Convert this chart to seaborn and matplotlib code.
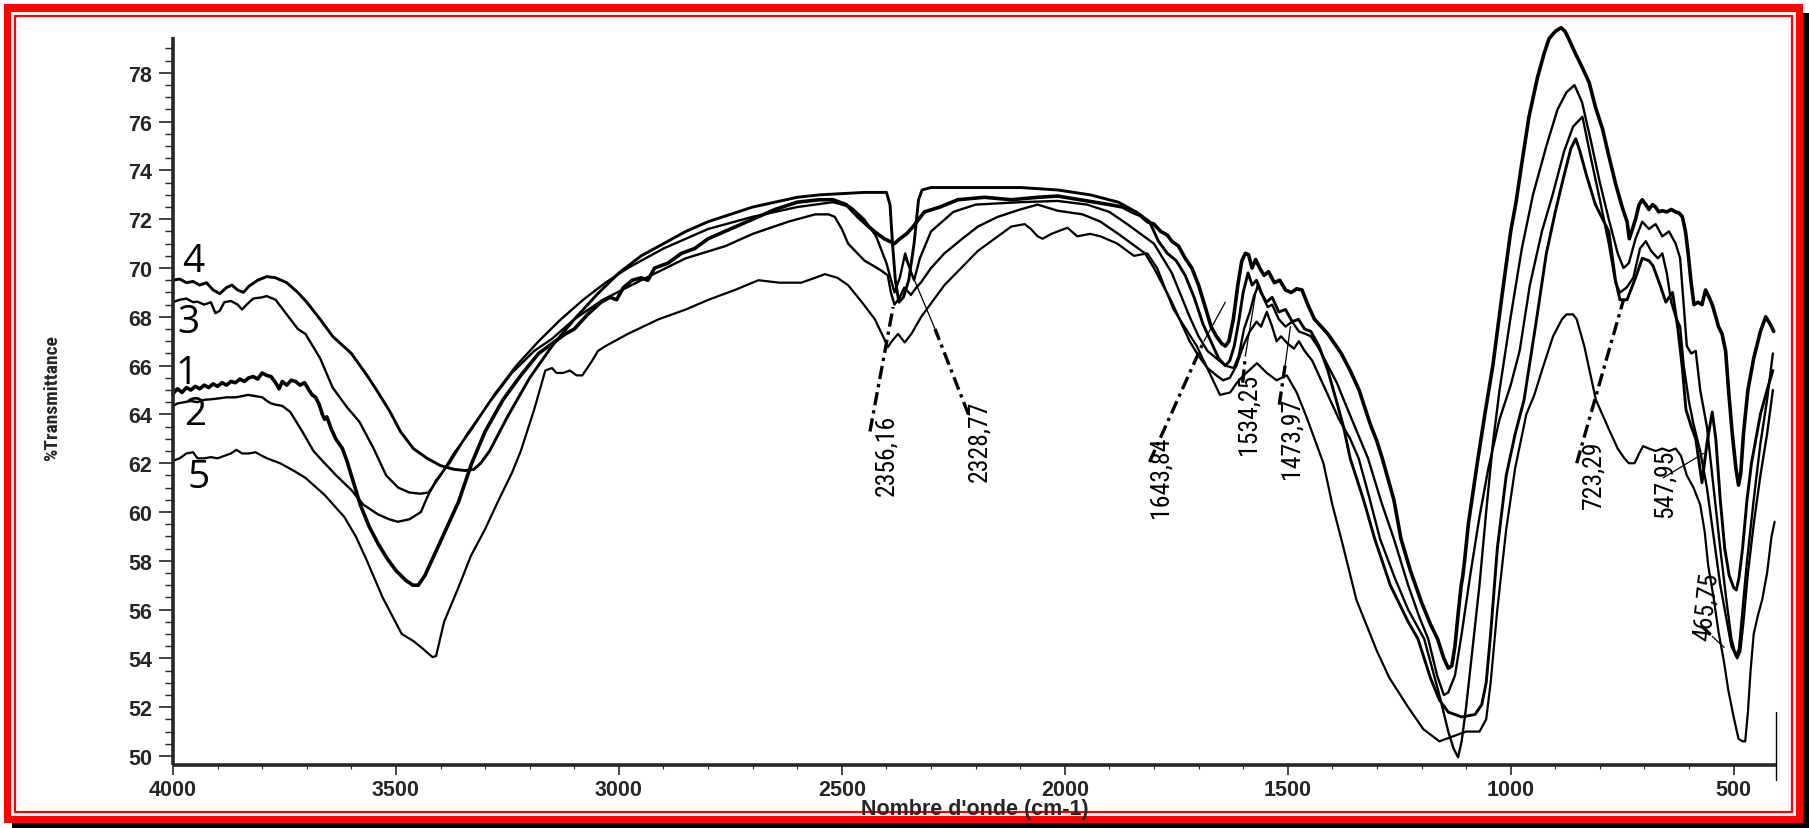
import matplotlib
matplotlib.use("Agg")
import matplotlib.pyplot as plt
from matplotlib.patches import Rectangle
from matplotlib.ticker import MultipleLocator
import pandas as pd
import seaborn as sns

W, H = 1809, 829

# FTIR spectra: (wavenumber cm-1, % transmittance)
sample1 = [
    (4000, 64.85), (3990, 65.05), (3980, 64.9), (3970, 65.1), (3960, 65.0), (3950, 65.15), (3940, 65.05),
    (3930, 65.2), (3920, 65.1), (3910, 65.25), (3900, 65.15), (3890, 65.3), (3880, 65.2), (3870, 65.35),
    (3860, 65.3), (3850, 65.45), (3840, 65.35), (3830, 65.5), (3820, 65.55), (3810, 65.45), (3800, 65.7),
    (3790, 65.6), (3780, 65.55), (3770, 65.3), (3762, 65.05), (3755, 65.35), (3745, 65.2), (3735, 65.4),
    (3725, 65.35), (3715, 65.2), (3705, 65.3), (3695, 65.0), (3688, 64.8), (3680, 64.7), (3672, 64.4),
    (3665, 64.0), (3660, 63.8), (3655, 63.9), (3645, 63.4), (3635, 63.0), (3620, 62.6), (3610, 62.1),
    (3595, 61.2), (3580, 60.3), (3560, 59.4), (3540, 58.7), (3520, 58.1), (3500, 57.6), (3478, 57.2),
    (3462, 57.0), (3450, 57.0), (3435, 57.4), (3400, 58.8), (3360, 60.4), (3330, 62.0), (3300, 63.3),
    (3260, 64.6), (3220, 65.6), (3180, 66.5), (3150, 66.9), (3120, 67.3), (3100, 67.5), (3070, 68.1),
    (3040, 68.6), (3020, 68.8), (3005, 68.7), (2990, 69.2), (2970, 69.5), (2950, 69.6), (2935, 69.5),
    (2920, 70.0), (2890, 70.2), (2860, 70.6), (2830, 70.8), (2800, 71.2), (2750, 71.6), (2700, 72.0),
    (2650, 72.4), (2600, 72.7), (2550, 72.8), (2520, 72.8), (2490, 72.6), (2464, 72.1), (2440, 71.7),
    (2427, 71.5), (2405, 71.2), (2382, 71.0), (2370, 71.2), (2355, 71.4), (2340, 71.7), (2315, 72.3),
    (2280, 72.5), (2240, 72.8), (2180, 72.9), (2120, 72.8), (2060, 72.9), (2016, 72.95), (1950, 72.75),
    (1900, 72.6), (1870, 72.5), (1850, 72.3), (1830, 72.15), (1815, 71.9), (1800, 71.8), (1785, 71.5),
    (1770, 71.35), (1760, 71.1), (1745, 70.9), (1730, 70.4), (1715, 70.0), (1700, 69.3), (1685, 68.4),
    (1672, 67.6), (1660, 67.2), (1648, 66.9), (1640, 66.8), (1632, 67.0), (1622, 67.9), (1612, 69.3),
    (1603, 70.3), (1595, 70.6), (1588, 70.55), (1580, 70.0), (1572, 70.35), (1563, 70.0), (1553, 69.7),
    (1543, 69.85), (1530, 69.4), (1518, 69.5), (1505, 69.1), (1492, 69.0), (1480, 69.15), (1468, 69.1),
    (1455, 68.5), (1440, 67.9), (1425, 67.6), (1410, 67.3), (1395, 66.9), (1380, 66.5), (1360, 65.8),
    (1340, 65.0), (1315, 63.6), (1300, 62.9), (1288, 62.2), (1262, 60.5), (1246, 58.9), (1225, 57.6),
    (1200, 56.3), (1180, 55.4), (1164, 54.8), (1150, 54.0), (1140, 53.6), (1132, 53.7), (1125, 54.5),
    (1118, 55.8), (1111, 57.0), (1108, 57.3), (1104, 57.9), (1095, 59.5), (1075, 62.0), (1058, 64.0),
    (1040, 66.0), (1020, 68.8), (1000, 71.5), (988, 72.7), (975, 74.3), (959, 76.2), (940, 77.8),
    (925, 78.8), (914, 79.4), (900, 79.7), (887, 79.85), (878, 79.7), (870, 79.4), (855, 78.8),
    (839, 78.2), (824, 77.6), (810, 76.6), (794, 75.7), (780, 74.6), (764, 73.4), (750, 72.5),
    (739, 71.9), (734, 71.2), (727, 71.6), (720, 72.0), (712, 72.6), (705, 72.8), (697, 72.6),
    (690, 72.4), (682, 72.6), (675, 72.5), (668, 72.3), (660, 72.35), (650, 72.3), (640, 72.4),
    (630, 72.3), (622, 72.25), (615, 72.1), (608, 71.5), (602, 70.6), (596, 69.5), (589, 68.5),
    (580, 68.6), (571, 68.5), (563, 69.1), (555, 68.8), (548, 68.5), (540, 68.0), (534, 67.6),
    (526, 67.3), (518, 66.6), (511, 64.9), (503, 63.2), (495, 61.8), (489, 61.1), (484, 61.6),
    (478, 63.2), (468, 65.0), (455, 66.3), (440, 67.4), (428, 68.0), (418, 67.7), (410, 67.4),
]

sample2 = [
    (4000, 64.35), (3990, 64.45), (3975, 64.5), (3960, 64.55), (3945, 64.5), (3930, 64.6), (3915, 64.62),
    (3900, 64.65), (3880, 64.7), (3860, 64.7), (3845, 64.75), (3832, 64.8), (3815, 64.75), (3800, 64.7),
    (3789, 64.55), (3780, 64.45), (3770, 64.4), (3755, 64.35), (3737, 64.1), (3710, 63.3), (3685, 62.5),
    (3660, 62.0), (3634, 61.5), (3600, 60.9), (3573, 60.3), (3540, 59.9), (3515, 59.7), (3496, 59.6),
    (3470, 59.7), (3444, 60.0), (3430, 60.6), (3410, 61.3), (3380, 62.0), (3340, 63.2), (3290, 64.5),
    (3240, 65.7), (3190, 66.6), (3150, 67.1), (3100, 67.9), (3036, 68.7), (2950, 69.5), (2850, 70.4),
    (2761, 70.9), (2700, 71.4), (2620, 71.9), (2560, 72.2), (2530, 72.2), (2516, 72.1), (2500, 71.6),
    (2486, 71.0), (2465, 70.6), (2449, 70.3), (2430, 70.1), (2412, 69.9), (2397, 69.7), (2390, 69.0),
    (2382, 68.5), (2370, 68.8), (2360, 69.2), (2345, 68.9), (2333, 69.2), (2323, 69.4), (2300, 70.0),
    (2270, 70.6), (2230, 71.2), (2195, 71.7), (2150, 72.1), (2100, 72.4), (2061, 72.6), (2016, 72.35),
    (1960, 72.2), (1920, 71.9), (1880, 71.4), (1850, 71.0), (1820, 70.6), (1800, 70.0), (1780, 69.3),
    (1760, 68.6), (1740, 67.8), (1720, 67.0), (1700, 66.4), (1680, 65.9), (1660, 65.6), (1645, 65.4),
    (1630, 65.5), (1615, 66.0), (1600, 66.8), (1585, 67.4), (1570, 67.8), (1560, 67.6), (1547, 68.2),
    (1535, 67.6), (1525, 67.0), (1515, 67.2), (1500, 66.9), (1486, 66.7), (1475, 67.0), (1462, 66.6),
    (1445, 66.2), (1430, 65.6), (1410, 64.8), (1385, 63.8), (1360, 63.0), (1341, 62.2), (1320, 60.8),
    (1293, 58.9), (1260, 57.3), (1230, 56.0), (1194, 54.8), (1160, 52.5), (1140, 51.0), (1128, 50.3),
    (1118, 49.95), (1110, 50.6), (1100, 52.0), (1085, 54.5), (1070, 57.0), (1055, 60.0), (1040, 62.8),
    (1025, 65.0), (1000, 68.0), (975, 70.8), (950, 73.0), (920, 75.0), (895, 76.5), (875, 77.2),
    (857, 77.5), (840, 76.8), (820, 75.2), (800, 73.5), (780, 72.0), (760, 70.6), (747, 70.0),
    (735, 70.2), (720, 71.2), (705, 71.9), (690, 71.6), (675, 71.8), (660, 71.3), (645, 71.5),
    (630, 71.0), (620, 70.4), (612, 68.5), (605, 66.8), (595, 66.5), (585, 66.6), (575, 65.0),
    (560, 63.5), (545, 61.0), (530, 58.5), (515, 56.2), (505, 54.8), (495, 54.1), (488, 54.4),
    (480, 56.0), (470, 58.0), (455, 60.5), (440, 62.8), (425, 64.6), (412, 66.5),
]

sample3 = [
    (4000, 68.6), (3985, 68.7), (3970, 68.75), (3955, 68.6), (3945, 68.62), (3930, 68.5), (3915, 68.6),
    (3905, 68.15), (3895, 68.25), (3885, 68.6), (3870, 68.65), (3855, 68.5), (3845, 68.3), (3835, 68.5),
    (3820, 68.75), (3800, 68.8), (3790, 68.85), (3770, 68.7), (3745, 68.1), (3720, 67.5), (3703, 67.3),
    (3670, 66.3), (3642, 65.1), (3610, 64.3), (3582, 63.7), (3550, 62.6), (3522, 61.5), (3495, 61.0),
    (3470, 60.8), (3445, 60.75), (3427, 60.8), (3400, 61.5), (3370, 62.4), (3330, 63.4), (3280, 64.8),
    (3230, 66.0), (3180, 67.0), (3130, 67.9), (3080, 68.7), (3030, 69.4), (2980, 70.0), (2900, 70.8),
    (2800, 71.6), (2700, 72.1), (2600, 72.5), (2520, 72.7), (2480, 72.5), (2450, 72.0), (2423, 71.3),
    (2400, 70.2), (2382, 69.0), (2370, 69.6), (2358, 70.6), (2348, 70.0), (2338, 69.5), (2325, 70.4),
    (2300, 71.5), (2250, 72.3), (2200, 72.6), (2100, 72.7), (2016, 72.75), (1950, 72.6), (1900, 72.3),
    (1860, 71.8), (1830, 71.4), (1800, 71.0), (1780, 70.4), (1760, 69.8), (1740, 68.9), (1720, 68.0),
    (1700, 67.2), (1680, 66.6), (1660, 66.3), (1640, 66.0), (1621, 65.9), (1610, 66.4), (1598, 67.5),
    (1585, 68.2), (1575, 68.9), (1565, 69.3), (1555, 68.8), (1545, 68.4), (1535, 68.5), (1520, 67.9),
    (1505, 67.6), (1490, 67.8), (1475, 67.4), (1460, 67.3), (1448, 67.2), (1430, 66.7), (1410, 66.0),
    (1390, 65.3), (1370, 64.4), (1345, 63.3), (1320, 62.2), (1290, 60.4), (1262, 58.9), (1230, 57.0),
    (1205, 55.7), (1185, 54.8), (1165, 53.3), (1150, 52.5), (1140, 52.6), (1125, 53.3), (1110, 55.0),
    (1090, 57.5), (1070, 59.8), (1050, 61.8), (1025, 63.8), (1000, 65.2), (980, 66.6), (957, 69.3),
    (930, 71.5), (906, 73.0), (880, 74.8), (860, 75.8), (839, 76.2), (820, 74.5), (800, 72.8),
    (780, 71.0), (765, 69.4), (755, 69.0), (740, 69.2), (725, 69.6), (710, 70.8), (697, 71.1),
    (685, 70.7), (670, 70.4), (660, 70.6), (650, 69.8), (640, 68.6), (630, 68.0), (620, 67.6),
    (612, 66.0), (600, 64.5), (590, 63.6), (575, 62.5), (560, 61.0), (545, 59.0), (530, 57.0),
    (515, 55.5), (505, 54.5), (492, 54.0), (485, 54.3), (478, 55.5), (468, 57.5), (455, 59.5),
    (440, 61.5), (425, 63.2), (412, 65.0),
]

sample4 = [
    (4000, 69.5), (3985, 69.55), (3970, 69.4), (3955, 69.45), (3940, 69.3), (3925, 69.4), (3910, 69.1),
    (3895, 68.95), (3880, 69.2), (3868, 69.3), (3855, 69.1), (3842, 69.0), (3830, 69.25), (3810, 69.5),
    (3790, 69.65), (3770, 69.6), (3745, 69.4), (3720, 69.0), (3700, 68.6), (3670, 67.9), (3642, 67.2),
    (3600, 66.5), (3565, 65.6), (3540, 64.9), (3513, 64.1), (3490, 63.3), (3461, 62.6), (3430, 62.2),
    (3400, 61.9), (3370, 61.75), (3345, 61.7), (3325, 61.75), (3310, 62.0), (3290, 62.5), (3250, 63.9),
    (3200, 65.5), (3150, 66.8), (3100, 67.9), (3050, 68.9), (3000, 69.8), (2950, 70.5), (2900, 71.0),
    (2850, 71.5), (2800, 71.9), (2750, 72.2), (2700, 72.5), (2650, 72.7), (2600, 72.9), (2550, 73.0),
    (2500, 73.05), (2450, 73.1), (2400, 73.1), (2392, 72.6), (2386, 70.9), (2380, 69.5), (2372, 68.6),
    (2362, 68.8), (2350, 69.5), (2338, 71.0), (2328, 72.8), (2320, 73.2), (2300, 73.3), (2200, 73.3),
    (2100, 73.3), (2016, 73.2), (1943, 73.0), (1880, 72.7), (1840, 72.3), (1810, 71.9), (1790, 71.1),
    (1770, 70.6), (1750, 70.3), (1730, 69.7), (1710, 68.8), (1690, 67.7), (1670, 66.9), (1655, 66.3),
    (1640, 66.0), (1630, 66.2), (1620, 66.8), (1610, 67.8), (1600, 69.0), (1589, 69.8), (1580, 69.3),
    (1570, 69.5), (1560, 69.0), (1548, 68.6), (1535, 68.8), (1520, 68.2), (1505, 68.3), (1490, 67.8),
    (1476, 67.9), (1462, 67.5), (1448, 67.4), (1430, 66.8), (1410, 65.8), (1390, 64.5), (1375, 63.5),
    (1360, 62.2), (1330, 60.5), (1305, 58.9), (1270, 57.0), (1230, 55.5), (1208, 54.8), (1180, 53.2),
    (1160, 52.3), (1140, 51.8), (1110, 51.6), (1080, 51.7), (1065, 52.1), (1055, 53.0), (1045, 55.0),
    (1030, 58.5), (1010, 61.5), (990, 63.2), (970, 64.6), (942, 67.9), (920, 70.6), (900, 72.3),
    (883, 73.6), (865, 74.9), (854, 75.3), (845, 74.8), (830, 73.8), (810, 72.6), (780, 71.5),
    (765, 69.5), (755, 68.7), (739, 68.7), (720, 69.6), (705, 70.4), (690, 70.3), (681, 70.1),
    (665, 69.3), (652, 68.6), (637, 69.0), (625, 67.5), (615, 65.9), (607, 64.2), (595, 63.5),
    (585, 63.0), (571, 61.2), (560, 62.8), (548, 64.1), (540, 63.0), (530, 60.5), (520, 58.5),
    (510, 57.4), (500, 56.9), (494, 56.8), (488, 57.3), (480, 58.5), (470, 60.5), (460, 62.0),
    (440, 64.0), (425, 65.0), (412, 65.8),
]

sample5 = [
    (4000, 62.1), (3985, 62.2), (3970, 62.4), (3955, 62.45), (3945, 62.2), (3930, 62.2), (3915, 62.25),
    (3900, 62.2), (3885, 62.3), (3870, 62.4), (3858, 62.55), (3845, 62.4), (3830, 62.4), (3815, 62.45),
    (3800, 62.3), (3789, 62.2), (3760, 62.0), (3730, 61.7), (3703, 61.4), (3660, 60.7), (3616, 59.8),
    (3590, 59.0), (3565, 58.0), (3530, 56.5), (3487, 55.0), (3460, 54.7), (3440, 54.4), (3418, 54.05),
    (3410, 54.1), (3392, 55.5), (3360, 56.9), (3332, 58.2), (3300, 59.3), (3272, 60.4), (3240, 61.6),
    (3220, 62.5), (3190, 64.2), (3165, 65.8), (3150, 65.9), (3140, 65.7), (3125, 65.7), (3110, 65.8),
    (3095, 65.6), (3082, 65.6), (3060, 66.2), (3047, 66.6), (3030, 66.8), (2980, 67.3), (2911, 67.9),
    (2850, 68.3), (2799, 68.7), (2740, 69.1), (2687, 69.5), (2640, 69.4), (2591, 69.4), (2560, 69.6),
    (2538, 69.75), (2510, 69.6), (2486, 69.3), (2455, 68.6), (2426, 67.9), (2405, 67.1), (2397, 66.75),
    (2388, 67.0), (2374, 67.3), (2359, 66.95), (2344, 67.3), (2322, 68.0), (2270, 69.3), (2195, 70.7),
    (2120, 71.7), (2090, 71.8), (2076, 71.6), (2061, 71.3), (2050, 71.2), (2030, 71.4), (2016, 71.5),
    (1994, 71.65), (1972, 71.3), (1943, 71.4), (1920, 71.3), (1882, 71.0), (1845, 70.5), (1815, 70.6),
    (1793, 70.0), (1756, 68.3), (1704, 66.8), (1652, 64.8), (1629, 64.9), (1614, 65.3), (1599, 65.6),
    (1569, 66.1), (1547, 65.7), (1525, 65.4), (1502, 65.6), (1480, 64.9), (1458, 63.9), (1420, 62.0),
    (1400, 60.3), (1380, 58.9), (1346, 56.4), (1300, 54.3), (1272, 53.2), (1230, 52.0), (1196, 51.1),
    (1160, 50.6), (1130, 50.8), (1100, 51.0), (1070, 51.0), (1055, 51.5), (1045, 53.0), (1030, 56.0),
    (1010, 59.3), (990, 61.8), (965, 64.0), (947, 64.8), (930, 65.8), (905, 67.2), (885, 67.9),
    (875, 68.1), (860, 68.1), (852, 67.9), (835, 66.8), (809, 64.6), (780, 63.4), (760, 62.6),
    (745, 62.2), (735, 62.0), (722, 62.0), (712, 62.4), (703, 62.7), (690, 62.6), (675, 62.5),
    (660, 62.6), (645, 62.5), (630, 62.6), (618, 62.3), (605, 61.5), (590, 61.0), (575, 60.3),
    (565, 59.2), (557, 57.8), (545, 56.5), (534, 55.1), (522, 53.9), (512, 52.7), (500, 51.6),
    (489, 50.7), (480, 50.6), (474, 50.6), (468, 51.8), (462, 53.5), (455, 55.0), (445, 55.8),
    (436, 56.4), (425, 57.5), (415, 59.0), (408, 59.6),
]

sample_names = ["1", "2", "3", "4", "5"]
sample_widths = [2.6, 1.7, 1.7, 2.1, 1.6]
name_positions = [(3969, 65.7), (3951, 64.0), (3966, 67.8), (3955, 70.3), (3943, 61.45)]

# Peak annotations: label text, label centre, dashed leader, thin leader
peak_labels = ["2356,16", "2328,77", "1643,84", "1534,25", "1473,97", "723,29", "547,95", "465,75"]
peak_label_xy = [(2400, 62.36), (2191, 62.93), (1786, 61.47), (1588, 64.04),
                 (1492, 63.05), (814, 61.58), (654, 61.2), (561, 56.15)]
peak_label_rot = [90, 90, 90, 90, 90, 90, 90, 84]
leader_dashed = [[(2437, 63.3), (2385, 68.4)], [(2216, 64.0), (2291, 67.5)],
                 [(1810, 62.05), (1688, 67.0)], [(1601, 65.3), (1595, 66.4)],
                 [(1519, 64.4), (1506, 66.0)], [(852, 62.0), (747, 68.7)],
                 [], [(573, 55.35), (548, 54.9)]]
leader_thin = [[], [(2291, 67.5), (2358, 70.4)],
               [(1688, 67.0), (1640, 68.6)], [(1595, 66.4), (1569, 69.3)],
               [(1506, 66.0), (1494, 67.6)], [],
               [(658, 61.4), (568, 62.4)], [(548, 54.9), (521, 54.45)]]

y_ticks = list(range(50, 79, 2))
x_ticks = [4000, 3500, 3000, 2500, 2000, 1500, 1000, 500]

sns.set_style("ticks")
plt.rcParams["font.family"] = ["Liberation Sans", "DejaVu Sans"]

fig = plt.figure(figsize=(W / 100, H / 100), dpi=100)
fig.patch.set_facecolor("white")


def frame_rect(x0, y0, x1, y1, **kw):
    r = Rectangle((x0 / W, 1 - y1 / H), (x1 - x0) / W, (y1 - y0) / H,
                  transform=fig.transFigure, **kw)
    fig.add_artist(r)
    return r


# double red frame with a black drop shadow
frame_rect(12, 14, 1809, 829, facecolor="black", edgecolor="none", zorder=-10)
frame_rect(4, 5, 1803, 824, facecolor="#ff0000", edgecolor="none", zorder=-9)
frame_rect(11, 13, 1796, 817, facecolor="white", edgecolor="none", zorder=-8)
frame_rect(15, 17, 1792, 813, facecolor="none", edgecolor="#ff0000", lw=1.6, zorder=-7)

ax = fig.add_axes([173 / W, 1 - 766 / H, 1603 / W, 728 / H])
ax.set_facecolor("none")

for name, pts, lw in zip(sample_names, [sample1, sample2, sample3, sample4, sample5], sample_widths):
    d = pd.DataFrame(pts, columns=["wavenumber", "transmittance"])
    sns.lineplot(data=d, x="wavenumber", y="transmittance", ax=ax, sort=False,
                 estimator=None, color="black", lw=lw)
for ln in ax.lines:
    ln.set_clip_on(False)
    ln.set_solid_joinstyle("round")

ax.set_xlim(4000, 405)
ax.set_ylim(49.63, 79.47)

ax.set_xticks(x_ticks)
ax.set_xticklabels([str(v) for v in x_ticks], fontsize=15.5, fontweight="bold")
ax.set_yticks(y_ticks)
ax.set_yticklabels([str(v) for v in y_ticks], fontsize=15.5, fontweight="bold")
ax.xaxis.set_minor_locator(MultipleLocator(100))
ax.yaxis.set_minor_locator(MultipleLocator(0.5))
ax.tick_params(axis="y", which="major", direction="out", length=10, width=1.2, pad=5)
ax.tick_params(axis="y", which="minor", direction="out", length=6, width=1.0)
ax.tick_params(axis="x", which="major", direction="out", length=7, width=1.2, pad=3)
ax.tick_params(axis="x", which="minor", direction="out", length=3, width=0.8)
ax.set_xlabel("")
ax.set_ylabel("")

sns.despine(ax=ax)
for side in ("left", "bottom"):
    ax.spines[side].set_linewidth(2.6)
    ax.spines[side].set_capstyle("butt")

# closing tick at the right end of the wavenumber axis
ax.plot([405, 405], [51.8, 49.0], color="black", lw=1.0, clip_on=False)

fig.text(52 / W, 1 - 398 / H, "%Transmittance", rotation=90, ha="center", va="center",
         fontsize=14, fontweight="bold",
         family=["Liberation Sans Narrow", "Roboto Condensed", "Liberation Sans"])
fig.text(975 / W, 1 - 810 / H, "Nombre d'onde (cm-1)", ha="center", va="center",
         fontsize=15.5, fontweight="bold")

for name, (x, y) in zip(sample_names, name_positions):
    ax.text(x, y, name, ha="center", va="center", fontsize=28, color="black",
            family=["Open Sans", "DejaVu Sans"])

for text, (x, y), rot, dashed, thin in zip(peak_labels, peak_label_xy, peak_label_rot,
                                           leader_dashed, leader_thin):
    if dashed:
        xs, ys = zip(*dashed)
        ax.plot(xs, ys, color="black", lw=2.4, linestyle=(0, (4, 1.5, 1, 1.5)), clip_on=False)
    if thin:
        xs, ys = zip(*thin)
        ax.plot(xs, ys, color="black", lw=0.9, clip_on=False)
    ax.text(x, y, text, rotation=rot, ha="center", va="center", fontsize=18.5, color="black",
            family=["Liberation Sans Narrow", "Roboto Condensed", "DejaVu Sans"],
            fontstretch="condensed")

fig.savefig("out.png", dpi=100, facecolor="white")
